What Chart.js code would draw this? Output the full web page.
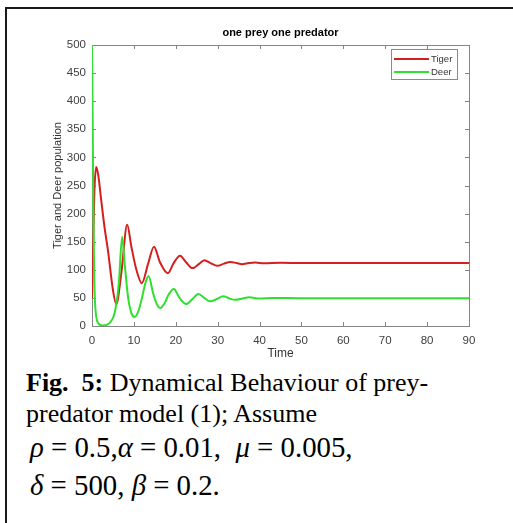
<!DOCTYPE html>
<html>
<head>
<meta charset="utf-8">
<script src="https://cdn.jsdelivr.net/npm/chart.js@4.4.1/dist/chart.umd.min.js"></script>
<style>
  html, body { margin: 0; padding: 0; background: #fff; }
  #frame {
    position: absolute; left: 5px; top: 7px; width: 520px; height: 530px;
    border-left: 2px solid #1a1a1a; border-top: 2px solid #1a1a1a;
  }
  #grafico { position: absolute; left: 7px; top: 9px; }
  .cap { position: absolute; font-family: "Liberation Serif", "Times New Roman", serif; color: #000; white-space: nowrap; }
  .l1, .l2 { font-size: 26px; line-height: 26px; }
  .l3, .l4 { font-size: 28.8px; line-height: 28.8px; }
  .l1 { left: 26px; top: 370px; }
  .l2 { left: 26px; top: 401px; }
  .l3 { left: 30px; top: 433px; }
  .l4 { left: 30px; top: 471px; }
  i { font-style: italic; }
</style>
</head>
<body>
<div id="frame"></div>
<canvas id="grafico" width="500" height="355"></canvas>
<div class="cap l1"><b>Fig.&nbsp; 5:</b> Dynamical Behaviour of prey-</div>
<div class="cap l2">predator model (1); Assume</div>
<div class="cap l3"><i>ρ</i> = 0.5,<i>α</i> = 0.01,&nbsp; <i>μ</i> = 0.005,</div>
<div class="cap l4"><i>δ</i> = 500, <i>β</i> = 0.2.</div>

<script>
// dados
var tituloGrafico = 'one prey one predator';
var rotulos = ['Tiger', 'Deer'];

var tempoTigre = [0, 0.3, 0.6, 1.0, 1.5, 2.2, 3.0, 3.8, 5.0, 5.8, 7.0, 8.4, 9.4, 10.6, 11.9, 13.4, 14.8, 16.2, 18.1, 19.5, 21.0, 22.5, 24.0, 25.5, 26.8, 28.3, 29.9, 31.5, 33.0, 34.5, 35.8, 37.5, 39.0, 41.0, 45.0, 50.0, 60.0, 70.0, 80.0, 90.0];
var popTigre   = [50, 160, 245, 283, 268, 224, 175, 135, 64, 39, 94, 180, 141, 100, 76, 111, 141, 114, 94, 112, 125, 113, 103, 110, 117, 112, 107, 111, 114, 112, 110, 112, 113, 111.5, 112.5, 112, 112, 112, 112, 112];

var tempoCervo = [0, 0.15, 0.3, 0.5, 0.7, 1.0, 1.5, 2.5, 3.5, 4.5, 5.4, 6.4, 7.2, 7.8, 8.6, 9.4, 10.2, 11.0, 11.8, 12.7, 13.5, 14.6, 15.4, 16.3, 17.3, 18.3, 19.5, 20.9, 22.5, 24.0, 25.4, 26.8, 28.2, 29.8, 31.3, 32.8, 34.2, 36.0, 37.5, 40.0, 43.0, 50.0, 60.0, 70.0, 80.0, 90.0];
var popCervo   = [500, 380, 230, 100, 45, 17, 5, 1, 2, 8, 23, 76, 159, 111, 52, 23, 16, 25, 46, 75, 89, 58, 40, 32, 40, 56, 66, 50, 39, 48, 57, 50, 44, 48, 53, 49, 46.5, 49, 51, 49, 50, 49.5, 49.5, 49.5, 49.5, 49.5];

var ticksX = [0, 10, 20, 30, 40, 50, 60, 70, 80, 90];
var ticksY = [0, 50, 100, 150, 200, 250, 300, 350, 400, 450, 500];

var corTigre = '#d41f1f';
var corCervo = '#2fe02f';
var corEixo = '#404040';

function pares(t, v) {
    return t.map(function (x, i) { return { x: x, y: v[i] }; });
}

// caixa do eixo, ticks para dentro, titulo e legenda
var plugEixos = {
    id: 'plugEixos',
    beforeDatasetsDraw: function (chart) {
        var ctx = chart.ctx, a = chart.chartArea;
        var sx = chart.scales.x, sy = chart.scales.y;
        ctx.save();
        ctx.strokeStyle = '#858585';
        ctx.lineWidth = 1;
        ctx.strokeRect(a.left + 0.5, a.top + 0.5, a.right - a.left, a.bottom - a.top);
        ctx.beginPath();
        ticksX.forEach(function (v) {
            var px = Math.round(sx.getPixelForValue(v)) + 0.5;
            ctx.moveTo(px, a.bottom); ctx.lineTo(px, a.bottom - 4);
            ctx.moveTo(px, a.top); ctx.lineTo(px, a.top + 4);
        });
        ticksY.forEach(function (v) {
            var py = Math.round(sy.getPixelForValue(v)) + 0.5;
            ctx.moveTo(a.left, py); ctx.lineTo(a.left + 4, py);
            ctx.moveTo(a.right, py); ctx.lineTo(a.right - 4, py);
        });
        ctx.stroke();
        ctx.restore();
    },
    afterDraw: function (chart) {
        var ctx = chart.ctx, a = chart.chartArea;
        ctx.save();
        // titulo
        ctx.fillStyle = '#000';
        ctx.font = 'bold 11px "Liberation Sans", Arial, sans-serif';
        ctx.textAlign = 'center';
        ctx.textBaseline = 'middle';
        ctx.fillText(tituloGrafico, (a.left + a.right) / 2, 24);
        // legenda
        var bx = a.right - 78, by = a.top + 4, bw = 66, bh = 30;
        ctx.fillStyle = '#fff';
        ctx.fillRect(bx, by, bw, bh);
        ctx.strokeStyle = '#8a8a8a';
        ctx.lineWidth = 1;
        ctx.strokeRect(bx + 0.5, by + 0.5, bw, bh);
        ctx.font = '9.5px "Liberation Sans", Arial, sans-serif';
        ctx.textAlign = 'left';
        chart.data.datasets.forEach(function (ds, i) {
            var yy = by + 10 + i * 13;
            ctx.strokeStyle = ds.borderColor;
            ctx.lineWidth = 2;
            ctx.beginPath();
            ctx.moveTo(bx + 3, yy); ctx.lineTo(bx + 38, yy);
            ctx.stroke();
            ctx.fillStyle = '#333';
            ctx.fillText(ds.label, bx + 40, yy);
        });
        ctx.restore();
    }
};

var ctx = document.getElementById('grafico').getContext('2d');
var myChart = new Chart(ctx, {
    type: 'line',
    data: {
        datasets: [{
            label: rotulos[0],
            data: pares(tempoTigre, popTigre),
            borderColor: corTigre,
            borderWidth: 2,
            pointRadius: 0,
            cubicInterpolationMode: 'monotone',
            order: 2
        },
        {
            label: rotulos[1],
            data: pares(tempoCervo, popCervo),
            borderColor: corCervo,
            borderWidth: 2,
            pointRadius: 0,
            cubicInterpolationMode: 'monotone',
            order: 1
        }]
    },
    options: {
        responsive: false,
        animation: false,
        layout: { padding: { top: 36, right: 38, left: 0, bottom: 0 } },
        plugins: {
            legend: { display: false },
            title: { display: false },
            tooltip: { enabled: false }
        },
        scales: {
            x: {
                type: 'linear',
                min: 0, max: 90,
                afterFit: function (s) { s.height = 38; },
                afterBuildTicks: function (s) { s.ticks = ticksX.map(function (v) { return { value: v }; }); },
                grid: { display: false, drawTicks: false },
                border: { display: false },
                ticks: { color: corEixo, padding: 8, maxRotation: 0, font: { family: '"Liberation Sans", Arial, sans-serif', size: 11.5 } },
                title: { display: true, text: 'Time', color: '#333', padding: { top: 0, bottom: 3 }, font: { family: '"Liberation Sans", Arial, sans-serif', size: 12 } }
            },
            y: {
                min: 0, max: 500,
                afterFit: function (s) { s.width = 85; },
                afterBuildTicks: function (s) { s.ticks = ticksY.map(function (v) { return { value: v }; }); },
                grid: { display: false, drawTicks: false },
                border: { display: false },
                ticks: { color: corEixo, padding: 6, font: { family: '"Liberation Sans", Arial, sans-serif', size: 11.5 } },
                title: { display: true, text: 'Tiger and Deer population', color: '#333', padding: { top: 44, bottom: 0 }, font: { family: '"Liberation Sans", Arial, sans-serif', size: 11 } }
            }
        }
    },
    plugins: [plugEixos]
});
</script>
</body>
</html>
